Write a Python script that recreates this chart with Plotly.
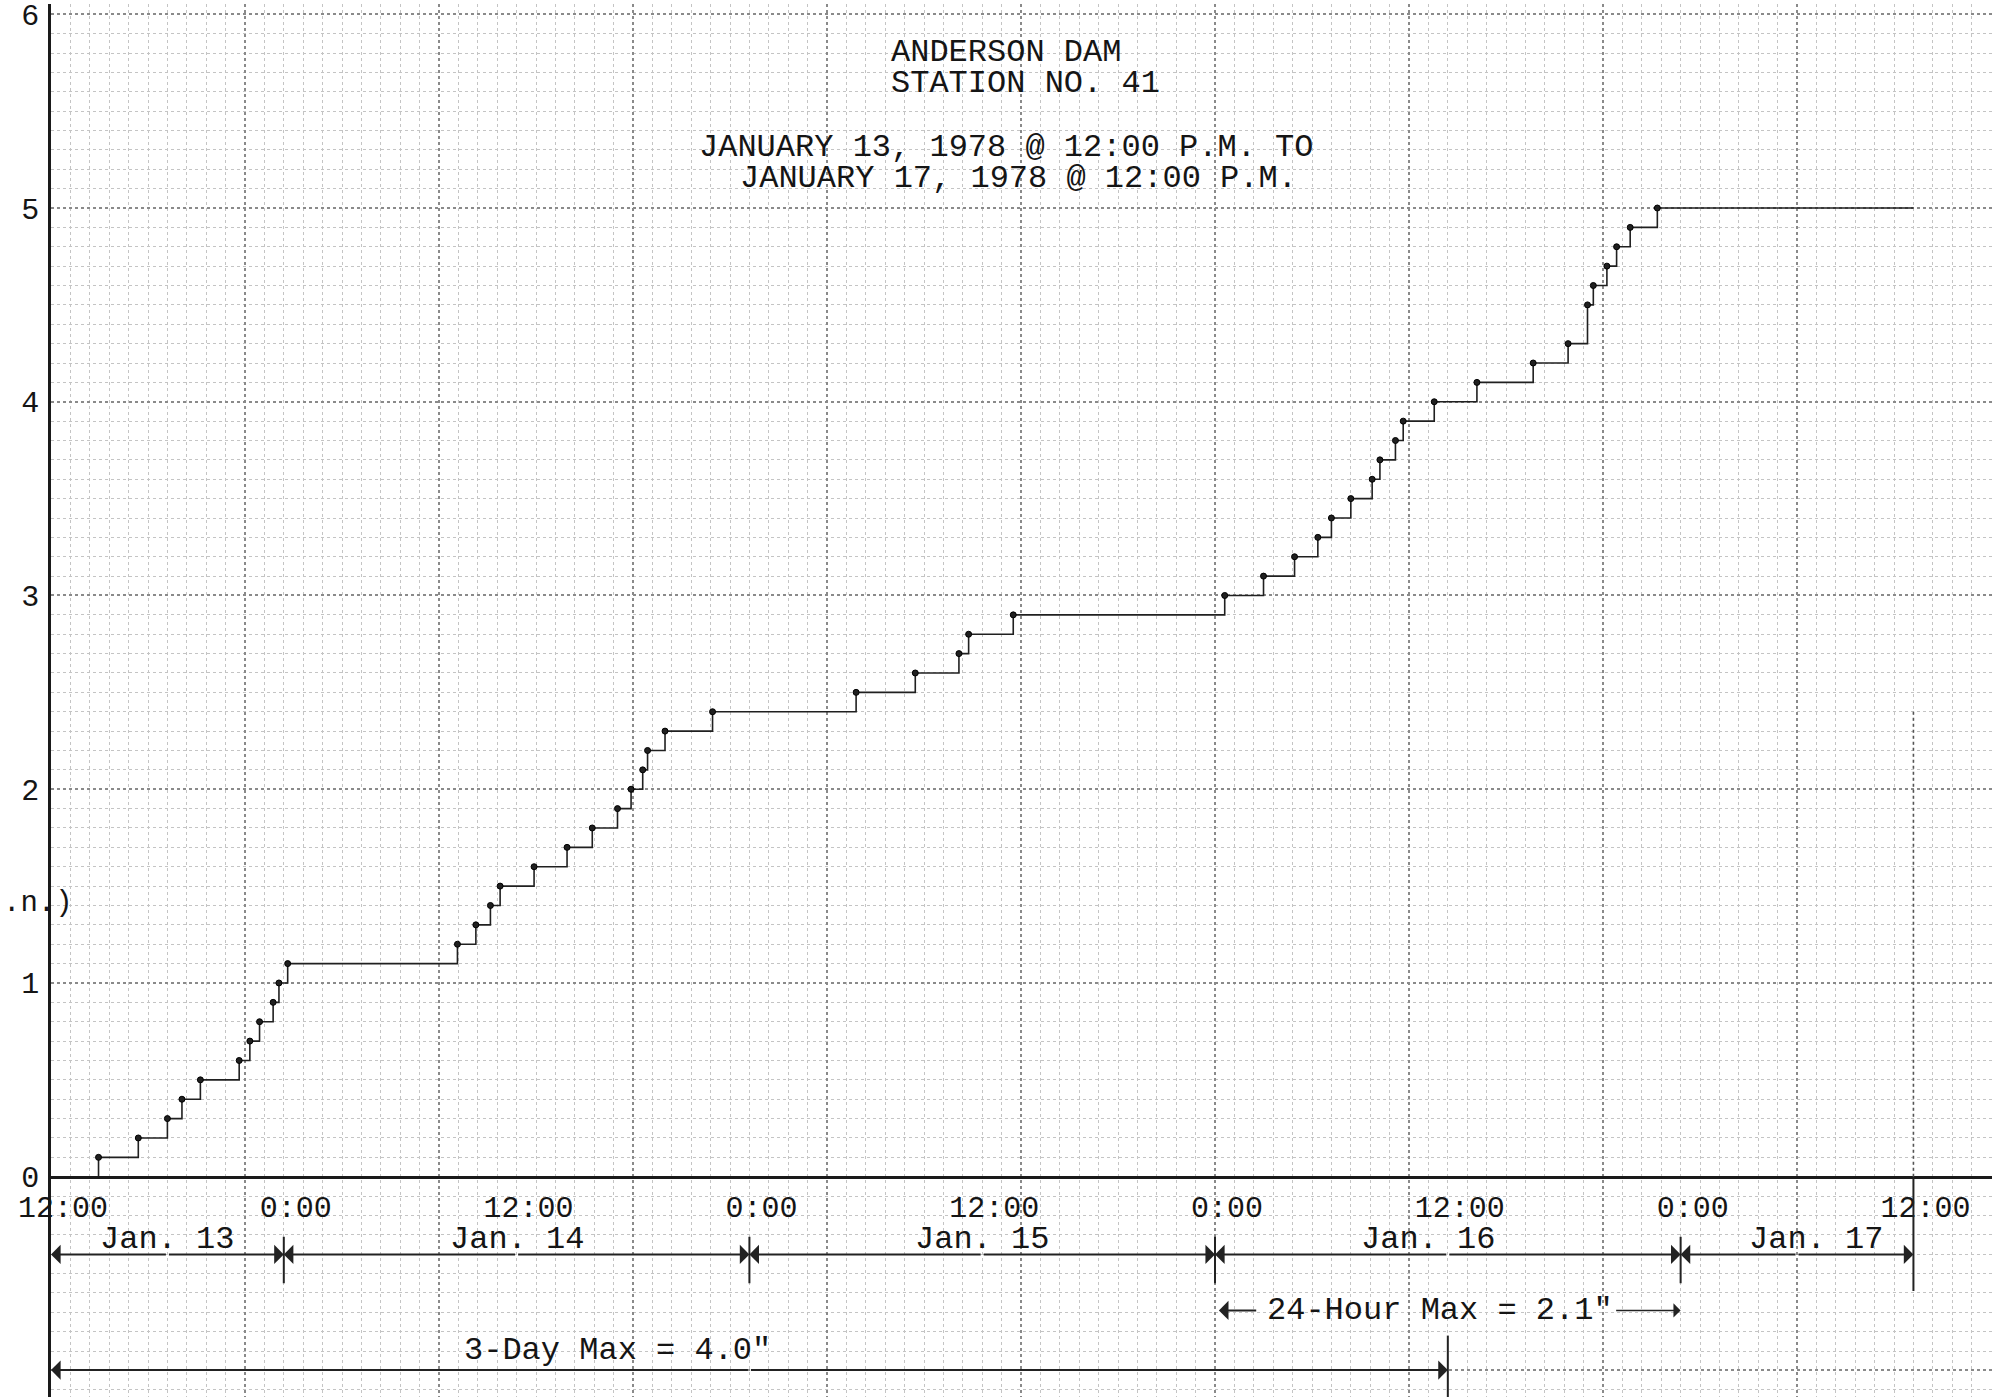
import plotly.graph_objects as go

# ---------------- data ----------------
# hours after 12:00 P.M. Jan 13, 1978 at which the cumulative total steps up
step_hours = [0, 2.45, 4.5, 6.0, 6.75, 7.7, 9.7, 10.25, 10.75, 11.45, 11.75,
              12.2, 20.95, 21.9, 22.65, 23.15, 24.9, 26.6, 27.9, 29.2, 29.9,
              30.5, 30.75, 31.65, 34.1, 41.5, 44.55, 46.8, 47.3, 49.6, 60.5,
              62.5, 64.1, 65.3, 66.0, 67.0, 68.1, 68.5, 69.3, 69.7, 71.3,
              73.5, 76.4, 78.2, 79.2, 79.5, 80.2, 80.7, 81.4, 82.8, 96]
cum_rain = [0.0, 0.1, 0.2, 0.3, 0.4, 0.5, 0.6, 0.7, 0.8, 0.9, 1.0,
            1.1, 1.2, 1.3, 1.4, 1.5, 1.6, 1.7, 1.8, 1.9, 2.0,
            2.1, 2.2, 2.3, 2.4, 2.5, 2.6, 2.7, 2.8, 2.9, 3.0,
            3.1, 3.2, 3.3, 3.4, 3.5, 3.6, 3.7, 3.8, 3.9, 4.0,
            4.1, 4.2, 4.3, 4.5, 4.6, 4.7, 4.8, 4.9, 5.0, 5.0]

tick_hours = [0, 12, 24, 36, 48, 60, 72, 84, 96]
tick_labels = ["12:00", "0:00", "12:00", "0:00", "12:00", "0:00", "12:00", "0:00", "12:00"]
y_ticks = [-1, 0, 1, 2, 3, 4, 5, 6]
y_tick_labels = ["", "0", "1", "2", "3", "4", "5", "6"]
y_title = ".n.)"

day_names = ["Jan. 13", "Jan. 14", "Jan. 15", "Jan. 16", "Jan. 17"]
day_centers = [6, 24, 48, 71, 91]
day_bounds = [0, 12, 36, 60, 84, 96]

max24_start, max24_end, max24_text = 60, 84, '24-Hour Max = 2.1"'
max3_start, max3_end, max3_text = 0, 72, '3-Day Max = 4.0"'

title_lines = ["ANDERSON DAM", "STATION NO. 41",
               "JANUARY 13, 1978 @ 12:00 P.M. TO", "JANUARY 17, 1978 @ 12:00 P.M."]

# ---------------- style ----------------
FONT = "Courier New, Liberation Mono, monospace"
INK = "#151515"
X_RANGE = [0, 100.05]
Y_RANGE = [-1.137, 6.053]
y_axis_pos = (0 - Y_RANGE[0]) / (Y_RANGE[1] - Y_RANGE[0])

fig = go.Figure()

fig.add_trace(go.Scatter(
    x=step_hours, y=cum_rain, mode="lines", line_shape="hv",
    line=dict(color="#202020", width=1.6), hoverinfo="skip", showlegend=False,
    xaxis="x", yaxis="y"))
fig.add_trace(go.Scatter(
    x=step_hours[1:-1], y=cum_rain[1:-1], mode="markers",
    marker=dict(symbol="circle", size=6, color="#202020",
                line=dict(color="#000", width=1)),
    showlegend=False, xaxis="x2", yaxis="y"))

grid_minor = dict(dtick=1, tick0=0, showgrid=True, gridcolor="#c4c4c4",
                  griddash="dot", gridwidth=1, ticks="")
fig.update_layout(
    width=1992, height=1397,
    margin=dict(l=51, r=0, t=0, b=0),
    paper_bgcolor="white", plot_bgcolor="white",
    font=dict(family=FONT, color=INK),
    xaxis=dict(range=X_RANGE, tickvals=list(range(0, 101, 10)),
               showticklabels=False, ticks="", showgrid=True,
               gridcolor="#8a8a8a", griddash="dot", gridwidth=1.6,
               zeroline=False, showline=False, minor=grid_minor),
    xaxis2=dict(range=X_RANGE, matches="x", overlaying="x", anchor="free",
                position=y_axis_pos, side="bottom",
                tickvals=tick_hours, ticktext=tick_labels,
                tickfont=dict(family=FONT, size=30, color=INK),
                ticks="", ticklen=0, ticklabelshift=12, ticklabelstandoff=2,
                showgrid=False, zeroline=False,
                showline=True, linecolor="#1a1a1a", linewidth=3),
    yaxis=dict(range=Y_RANGE, tickvals=y_ticks, ticktext=y_tick_labels,
               tickfont=dict(family=FONT, size=30, color=INK),
               ticks="", ticklabelstandoff=3, ticklabeloverflow="allow",
               showgrid=True, gridcolor="#8a8a8a", griddash="dot",
               gridwidth=1.6, zeroline=False,
               showline=True, linecolor="#1a1a1a", linewidth=2.5,
               minor=dict(dtick=0.1, tick0=0, showgrid=True,
                          gridcolor="#c4c4c4", griddash="dot",
                          gridwidth=1, ticks="")),
)

ann = []
shapes = []

# title block
title_pos = [(43.2, 5.805), (43.2, 5.641), (33.3, 5.311), (35.4, 5.152)]
for txt, (tx, ty) in zip(title_lines, title_pos):
    ann.append(dict(x=tx, y=ty, xref="x", yref="y", text=txt, showarrow=False,
                    xanchor="left", yanchor="middle",
                    font=dict(family=FONT, size=32, color=INK)))

# visible remnant of the y-axis title
ann.append(dict(x=-0.0258, y=1.41, xref="paper", yref="y", text=y_title,
                showarrow=False, xanchor="left", yanchor="middle",
                font=dict(family=FONT, size=29, color=INK)))

# day labels
ROW1 = -0.401
for name, c in zip(day_names, day_centers):
    ann.append(dict(x=c, y=-0.325, xref="x", yref="y", text=name, showarrow=False,
                    xanchor="center", yanchor="middle",
                    font=dict(family=FONT, size=32, color=INK)))


def arrow(x_tip, x_tail, y):
    return dict(x=x_tip, y=y, ax=x_tail, ay=y, xref="x", yref="y",
                axref="x", ayref="y", text="", showarrow=True,
                arrowhead=1, arrowsize=1.6, arrowwidth=2,
                arrowcolor="#222", standoff=0, startstandoff=0)


# day span arrows
for a, b in zip(day_bounds[:-1], day_bounds[1:]):
    m = (a + b) / 2
    ann.append(arrow(a, m, ROW1))
    ann.append(arrow(b, m, ROW1))
for b in day_bounds[1:-1]:
    shapes.append(dict(type="line", xref="x", yref="y", x0=b, x1=b,
                       y0=-0.31, y1=-0.55, line=dict(color="#222", width=2)))
# 12:00 Jan 17 end mark
shapes.append(dict(type="line", xref="x", yref="y", x0=day_bounds[-1],
                   x1=day_bounds[-1], y0=-0.59, y1=0,
                   line=dict(color="#222", width=2)))
shapes.append(dict(type="line", xref="x", yref="y", x0=day_bounds[-1],
                   x1=day_bounds[-1], y0=0, y1=2.4,
                   line=dict(color="#555", width=1.6, dash="dot")))

# 24-hour max
Y24 = -0.69
ann.append(dict(x=(max24_start + max24_end) / 2 - 0.4, y=Y24, xref="x", yref="y",
                text=max24_text, showarrow=False, xanchor="center",
                yanchor="middle", font=dict(family=FONT, size=32, color=INK)))
ann.append(arrow(max24_start + 0.2, max24_start + 2.2, Y24))
ann.append(dict(arrow(max24_end, max24_end - 3.4, Y24), arrowwidth=1.5))

# 3-day max
Y3T, Y3L = -0.896, -0.998
ann.append(dict(x=29.2, y=Y3T, xref="x", yref="y", text=max3_text,
                showarrow=False, xanchor="center", yanchor="middle",
                font=dict(family=FONT, size=32, color=INK)))
m3 = (max3_start + max3_end) / 2
ann.append(arrow(max3_start, m3, Y3L))
ann.append(arrow(max3_end, m3, Y3L))
shapes.append(dict(type="line", xref="x", yref="y", x0=max3_end, x1=max3_end,
                   y0=-0.82, y1=Y_RANGE[0], line=dict(color="#222", width=2)))

fig.update_layout(annotations=ann, shapes=shapes)

fig.write_html("out.html", config={"displayModeBar": False},
               post_script="document.body.style.margin='0px';"
                           "document.body.style.overflow='hidden';")
